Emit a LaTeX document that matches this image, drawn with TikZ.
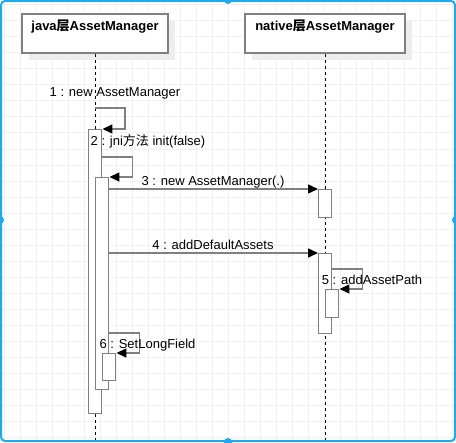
\documentclass[tikz,border=0pt]{standalone}
\usepackage{fontspec}
\setmainfont{Liberation Sans}
\newfontfamily\cjk{Noto Sans CJK SC}
\usetikzlibrary{positioning}
\usetikzlibrary{arrows.meta, shadows}
\definecolor{linegray}{RGB}{128,128,128}
\definecolor{gridgray}{RGB}{241,241,241}
\definecolor{selblue}{RGB}{30,170,240}

\begin{document}
\begin{tikzpicture}[x=0.75pt, y=-0.75pt,
    head/.style={draw=linegray, line width=1.5pt, fill=white, inner ysep=0pt,
        text height=12.75pt, text depth=16.5pt, anchor=north,
        font=\bfseries\fontsize{9.75pt}{11pt}\selectfont,
        drop shadow={shadow xshift=5.25pt, shadow yshift=-5.25pt, fill=black!7, opacity=1}},
    bar/.style={draw=linegray, line width=1.1pt, fill=white, minimum width=9.75pt,
        inner sep=0pt, anchor=north west},
    lifeline/.style={dash pattern=on 2.25pt off 2.25pt, line width=0.75pt},
    msg/.style={draw=linegray, line width=1.1pt, -{Triangle[black, length=7.5pt, width=6.75pt]}},
    lbl/.style={font=\fontsize{9.75pt}{11pt}\selectfont, inner sep=0pt, anchor=base}]
    \useasboundingbox (0,0) rectangle (456,442);

    % Grid
    \foreach \gx in {4,20,...,452}
        \draw[gridgray, line width=0.75pt] (\gx,0) -- (\gx,442);
    \foreach \gy in {5,21,...,437}
        \draw[gridgray, line width=0.75pt] (0,\gy) -- (456,\gy);

    % Lifelines
    \node[head, minimum width=109.5pt] (java) at (95,13) {java{\cjk 层}AssetManager};
    \node[head, minimum width=120pt] (native) at (325,13) {native{\cjk 层}AssetManager};
    \coordinate (javaend) at (95,442);
    \coordinate (nativeend) at (325,442);
    \draw[lifeline] (java.south) -- (javaend);
    \draw[lifeline] (native.south) -- (nativeend);

    % Activations
    \node[bar, minimum height=213pt] (barA) at (88,129) {};
    \node[bar, minimum height=159pt] (barB) at (95,177) {};
    \node[bar, minimum height=20.25pt] (barC) at (102,353) {};
    \node[bar, minimum height=21pt] (nbarA) at (318,189) {};
    \node[bar, minimum height=60pt] (nbarB) at (318,253) {};
    \node[bar, minimum height=21pt] (nbarC) at (325,289) {};

    % Messages
    \draw[msg] (java.south |- 0,108) -- ++(30,0) |- (barA.north east);
    \draw[msg] (barA.east |- 0,157) -- ++(30,0) |- (barB.north east);
    \draw[msg] (barB.east |- nbarA.north west) -- (nbarA.north west);
    \draw[msg] (barB.east |- nbarB.north west) -- (nbarB.north west);
    \draw[msg] (nbarB.east |- 0,269) -- ++(30,0) |- (nbarC.north east);
    \draw[msg] (barB.east |- 0,333) -- ++(30,0) |- (barC.north east);

    % Labels
    \node[lbl] (m1) at (115,96.7) {1 : new AssetManager};
    \node[lbl] (m2) at (148,145.5) {2 : jni{\cjk 方法} init(false)};
    \node[lbl] (m3) at (213,185.5) {3 : new AssetManager(.)};
    \node[lbl] (m4) at (213,249.5) {4 : addDefaultAssets};
    \node[lbl] (m5) at (372,284) {5 : addAssetPath};
    \node[lbl] (m6) at (147.5,348) {6 : SetLongField};

    % Selection frame
    \draw[selblue, line width=1.5pt, rounded corners=3pt] (1,1) rectangle (455,441);
    \foreach \hx/\hy in {228/0, 0/220, 456/220, 228/442}
        \fill[selblue] (\hx,\hy) circle (3pt);
\end{tikzpicture}
\end{document}
